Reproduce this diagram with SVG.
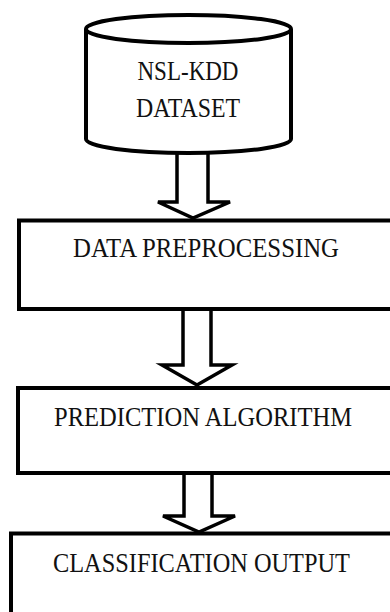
<svg xmlns="http://www.w3.org/2000/svg" width="390" height="612" viewBox="0 0 390 612">
<style>
.s{fill:#fff;stroke:#000;stroke-width:4}
.a{fill:#fff;stroke:#000;stroke-width:3.5;stroke-linejoin:miter}
.t{font-family:"Liberation Serif","Times New Roman",serif;font-size:26.5px;fill:#111;text-anchor:middle}
</style>
<rect width="390" height="612" fill="#fff"/>
<g id="connectors">
<path class="a" d="M177,148 V202 H158 L193,218 L230,202 H208 V148"/>
<path class="a" d="M183,309 V365 H162 L197,385 L232,365 H211 V309"/>
<path class="a" d="M184,473 V516 H163 L199,532 L235,516 H212 V473"/>
</g>
<g id="dataset">
<path class="s" d="M86,29 V139 A102.5,14 0 0 0 291,139 V29" stroke-width="3.5"/>
<ellipse class="s" cx="188.5" cy="29" rx="102.5" ry="14" stroke-width="3.5"/>
<text class="t" x="188" y="80" textLength="101" lengthAdjust="spacingAndGlyphs">NSL-KDD</text>
<text class="t" x="188" y="117" textLength="104" lengthAdjust="spacingAndGlyphs">DATASET</text>
</g>
<g id="preprocessing">
<rect class="s" x="19" y="220.5" width="390" height="88.5"/>
<text class="t" x="206" y="257" textLength="266" lengthAdjust="spacingAndGlyphs">DATA PREPROCESSING</text>
</g>
<g id="prediction">
<rect class="s" x="18" y="388" width="390" height="85"/>
<text class="t" x="203" y="426" textLength="298" lengthAdjust="spacingAndGlyphs">PREDICTION ALGORITHM</text>
</g>
<g id="classification">
<rect class="s" x="11" y="533.5" width="390" height="100"/>
<text class="t" x="201.5" y="572" textLength="297" lengthAdjust="spacingAndGlyphs">CLASSIFICATION OUTPUT</text>
</g>
</svg>
